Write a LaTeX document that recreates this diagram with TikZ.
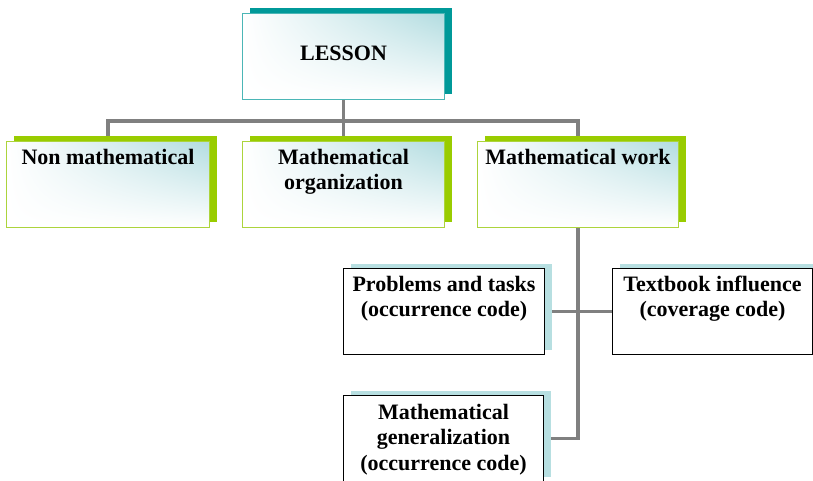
\documentclass[tikz,border=0pt]{standalone}
\usepackage{fontspec}
\setmainfont{Liberation Serif}
\usetikzlibrary{shadows,backgrounds,shadings}
\definecolor{tealshadow}{RGB}{0,153,153}
\definecolor{tealborder}{RGB}{75,182,182}
\definecolor{greenshadow}{RGB}{153,204,0}
\definecolor{greenborder}{RGB}{172,212,60}
\definecolor{blueshadow}{RGB}{183,223,225}
\definecolor{shadeblue}{RGB}{178,220,224}
\definecolor{conncol}{RGB}{128,128,128}
\newcommand\boxtext[4]{\parbox[c][#2][t]{#1}{\vspace*{#3}\centering #4\par}}
\tikzset{
  box/.style={anchor=north west, inner sep=0pt, line width=1pt,
    font=\bfseries\fontsize{22}{25.5}\selectfont},
  shadedbox/.style={box, shade, upper right=shadeblue, upper left=white, lower left=white, lower right=white},
  tealbox/.style={shadedbox, draw=tealborder,
    general shadow={fill=tealshadow, shadow xshift=7pt, shadow yshift=6pt}},
  greenbox/.style={shadedbox, draw=greenborder,
    general shadow={fill=greenshadow, shadow xshift=7pt, shadow yshift=6pt}},
  plainbox/.style={box, draw=black, fill=white,
    general shadow={fill=blueshadow, shadow xshift=7pt, shadow yshift=5pt}},
  conn/.style={draw=conncol, line width=3.5pt}
}
\begin{document}
\begin{tikzpicture}[x=1pt,y=-1pt]
\path[use as bounding box, clip] (0,0) rectangle (813,480);
\node[tealbox] (lesson) at (242,13) {\boxtext{202pt}{86pt}{29pt}{\strut LESSON}};
\node[greenbox] (nonm) at (6,141) {\boxtext{203pt}{86pt}{5pt}{\strut Non mathematical}};
\node[greenbox] (org) at (242,141) {\boxtext{202pt}{86pt}{5pt}{\strut Mathematical\\organization}};
\node[greenbox] (work) at (477,141) {\boxtext{201pt}{86pt}{5pt}{\strut Mathematical work}};
\node[plainbox] (prob) at (343,268) {\boxtext{201pt}{86pt}{5pt}{\strut Problems and tasks\\(occurrence code)}};
\node[plainbox] (text) at (612,268) {\boxtext{200pt}{86pt}{5pt}{\strut Textbook influence\\(coverage code)}};
\node[plainbox] (gen) at (343,395) {\boxtext{200pt}{86pt}{6pt}{\strut Mathematical\\generalization\\(occurrence code)}};
\coordinate (j) at (343,121);
\begin{scope}[on background layer]
\draw[conn] (lesson.south) -- (org.north);
\draw[conn] (nonm.north) -- (nonm.north |- j) -- (work.north |- j) -- (work.north);
\draw[conn] (work.south) |- (gen.east);
\draw[conn] (prob.east) -- (text.west);
\end{scope}
\end{tikzpicture}
\end{document}
